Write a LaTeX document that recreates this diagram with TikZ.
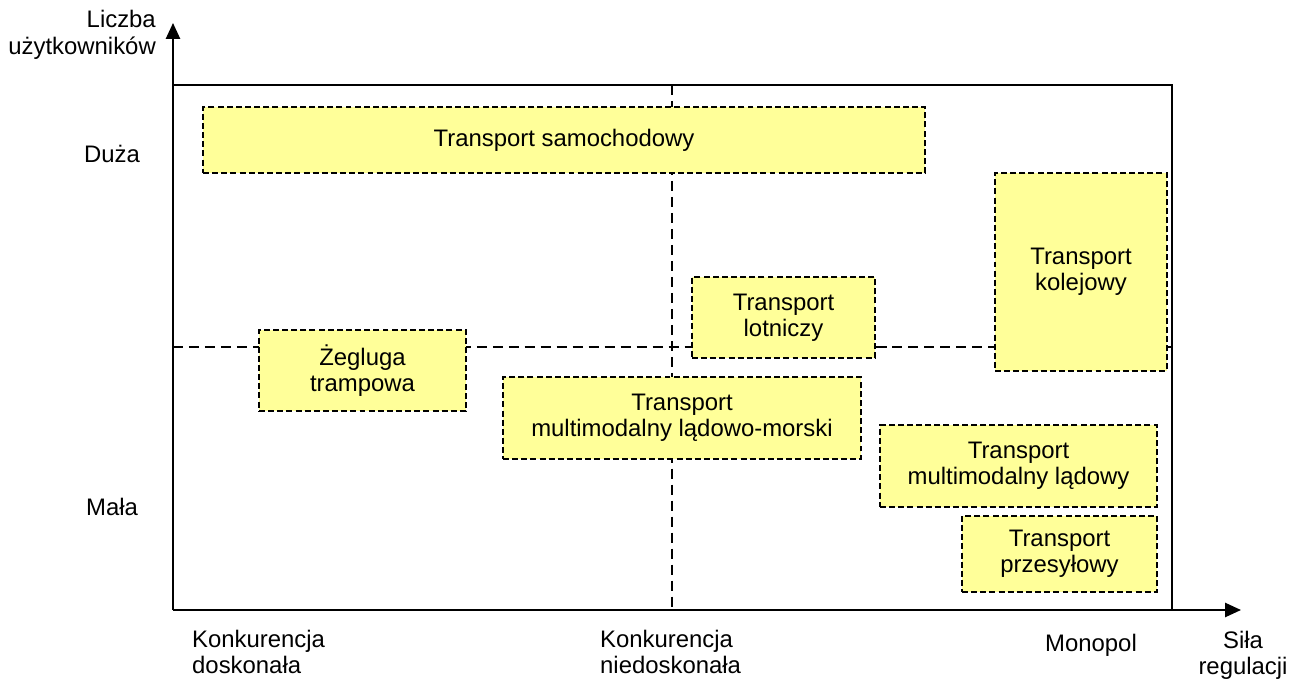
\documentclass[tikz,border=0pt]{standalone}
\usepackage{fontspec}
\setmainfont{Liberation Sans}
\usetikzlibrary{arrows,arrows.meta}
\usetikzlibrary{calc}
\definecolor{pole}{RGB}{255,255,153}
\definecolor{kreska}{RGB}{0,0,0}

\begin{document}
\begin{tikzpicture}[x=0.02cm, y=-0.02cm,
    font=\fontsize{13.6}{15}\selectfont,
    obszar/.style={draw=kreska, fill=pole, line width=1pt, dash pattern=on 3.4pt off 1.8pt, inner sep=0pt, outer sep=0pt, align=center},
    os/.style={line width=1.1pt, -{Triangle[length=9pt, width=8pt]}},
    podzial/.style={line width=1pt, dash pattern=on 5.7pt off 3.4pt}]

    \useasboundingbox (0,0) rectangle (1289,686);

    % osie i ramka
    \coordinate (O) at (173,610);
    \coordinate (Ygora) at (173,23);
    \coordinate (Xkon) at (1241,610);
    \coordinate (LG) at (173,85);
    \coordinate (PG) at (1172,85);
    \coordinate (PD) at (1172,610);
    \coordinate (SrG) at (672,85);
    \coordinate (SrD) at (672,610);
    \coordinate (LS) at (173,347);
    \coordinate (PS) at (1172,347);

    \draw[podzial] (SrG) -- (SrD);
    \draw[podzial] (LS) -- (PS);
    \draw[line width=1.1pt] (LG) -- (PG) -- (PD);
    \draw[os] (O) -- (Ygora);
    \draw[os] (O) -- (Xkon);

    % pola
    \node[obszar, minimum width=14.44cm, minimum height=1.32cm] (samoch) at (564,140) {Transport samochodowy};
    \node[obszar, minimum width=3.44cm, minimum height=3.96cm] (kolej) at (1081,272) {Transport\\kolejowy};
    \node[obszar, minimum width=3.66cm, minimum height=1.62cm] (lot) at (783.5,317.5) {Transport\\lotniczy};
    \node[obszar, minimum width=4.14cm, minimum height=1.62cm] (zegluga) at (362.5,370.5) {Żegluga\\trampowa};
    \node[obszar, minimum width=7.16cm, minimum height=1.64cm] (ladmor) at (682,418) {Transport\\multimodalny lądowo-morski};
    \node[obszar, minimum width=5.54cm, minimum height=1.64cm] (lad) at (1018.5,466) {Transport\\multimodalny lądowy};
    \node[obszar, minimum width=3.9cm, minimum height=1.52cm] (przes) at (1059.5,554) {Transport\\przesyłowy};

    % opisy osi
    \node[anchor=east, align=right] (liczba) at (162,35) {Liczba\\użytkowników};
    \node (duza) at (112,154) {Duża};
    \node (mala) at (112,507) {Mała};
    \node[anchor=west, align=left] (kdosk) at (186,652) {Konkurencja\\doskonała};
    \node[anchor=west, align=left] (kniedosk) at (594,652) {Konkurencja\\niedoskonała};
    \node (monopol) at (1091,645) {Monopol};
    \node[align=center] (sila) at (1243,655) {Siła\\regulacji};

\end{tikzpicture}
\end{document}
